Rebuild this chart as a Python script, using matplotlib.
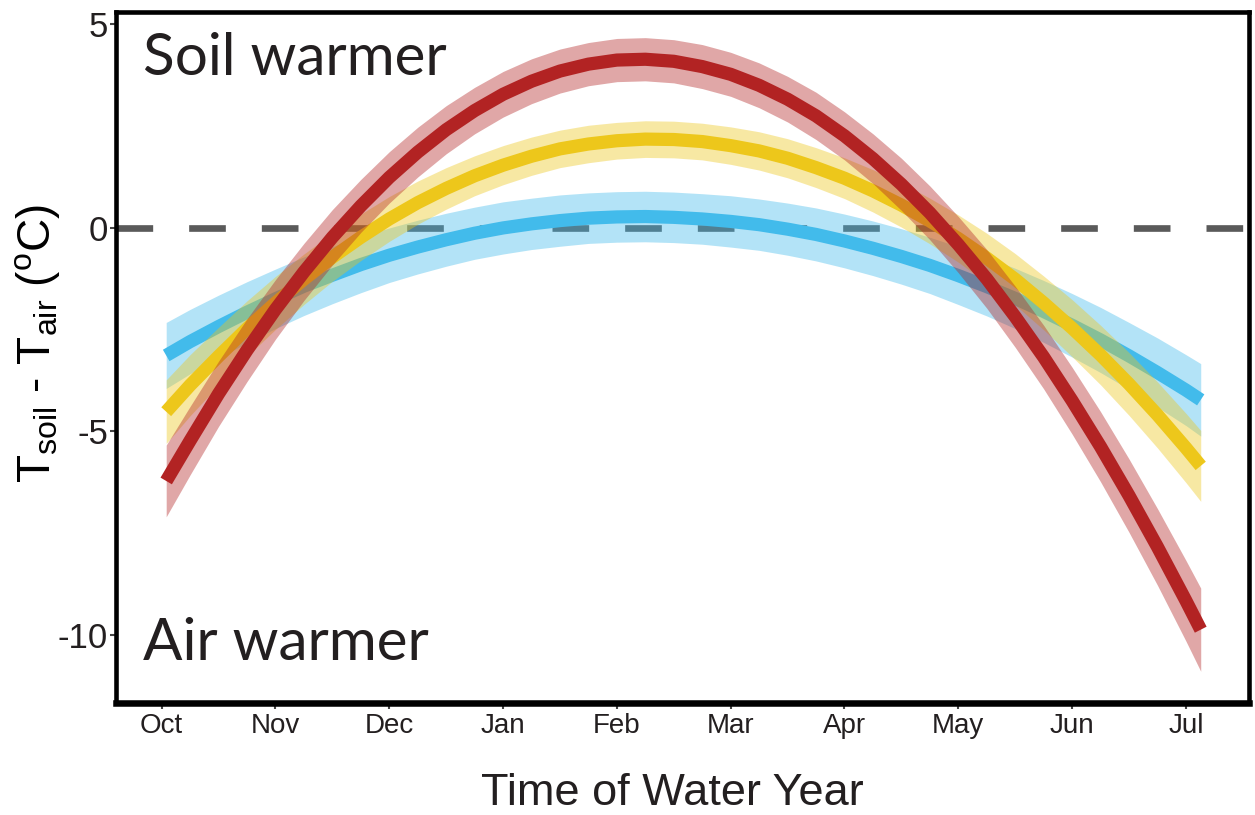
import matplotlib
matplotlib.use('Agg')
import matplotlib.pyplot as plt

plt.rcParams['mathtext.fontset'] = 'custom'
plt.rcParams['mathtext.rm'] = 'Liberation Sans'
plt.rcParams['mathtext.it'] = 'Liberation Sans'

# months since the start of the water year (Oct = 0)
months = ['Oct', 'Nov', 'Dec', 'Jan', 'Feb', 'Mar', 'Apr', 'May', 'Jun', 'Jul']
t = [0.04, 0.25, 0.5, 0.75, 1.0, 1.25, 1.5, 1.75, 2.0, 2.25,
     2.5, 2.75, 3.0, 3.25, 3.5, 3.75, 4.0, 4.25, 4.5, 4.75,
     5.0, 5.25, 5.5, 5.75, 6.0, 6.25, 6.5, 6.75, 7.0, 7.25,
     7.5, 7.75, 8.0, 8.25, 8.5, 8.75, 9.0, 9.13]

# soil minus air temperature, fitted curves (degC)
blue = [-3.14, -2.80, -2.43, -2.08, -1.75, -1.44, -1.17, -0.91, -0.68, -0.48,
        -0.30, -0.14, -0.01, 0.09, 0.17, 0.23, 0.26, 0.27, 0.25, 0.21,
        0.15, 0.07, -0.04, -0.17, -0.33, -0.51, -0.71, -0.93, -1.18, -1.45,
        -1.74, -2.06, -2.40, -2.76, -3.15, -3.56, -3.99, -4.23]
yellow = [-4.52, -3.87, -3.16, -2.48, -1.85, -1.27, -0.73, -0.24, 0.21, 0.61,
          0.96, 1.27, 1.53, 1.75, 1.93, 2.05, 2.13, 2.17, 2.16, 2.11,
          2.01, 1.88, 1.70, 1.47, 1.21, 0.90, 0.55, 0.16, -0.27, -0.75,
          -1.27, -1.85, -2.47, -3.13, -3.84, -4.60, -5.41, -5.85]
red = [-6.22, -5.23, -4.08, -3.01, -2.01, -1.09, -0.24, 0.53, 1.23, 1.85,
       2.40, 2.87, 3.27, 3.59, 3.84, 4.01, 4.11, 4.13, 4.08, 3.95,
       3.76, 3.49, 3.15, 2.74, 2.25, 1.69, 1.06, 0.36, -0.42, -1.26,
       -2.19, -3.18, -4.25, -5.38, -6.58, -7.84, -9.16, -9.87]

# half-width of the confidence ribbons
blue_ci = [0.81, 0.79, 0.77, 0.75, 0.73, 0.72, 0.70, 0.69, 0.67, 0.66,
           0.65, 0.64, 0.64, 0.63, 0.63, 0.62, 0.62, 0.62, 0.62, 0.62,
           0.63, 0.63, 0.64, 0.65, 0.66, 0.67, 0.68, 0.69, 0.71, 0.72,
           0.74, 0.76, 0.78, 0.80, 0.82, 0.85, 0.87, 0.89]
yellow_ci = [0.78, 0.75, 0.71, 0.68, 0.65, 0.62, 0.59, 0.57, 0.55, 0.53,
             0.51, 0.49, 0.48, 0.47, 0.46, 0.46, 0.45, 0.45, 0.45, 0.45,
             0.46, 0.47, 0.48, 0.49, 0.50, 0.52, 0.54, 0.56, 0.58, 0.61,
             0.63, 0.66, 0.70, 0.73, 0.77, 0.81, 0.85, 0.87]
red_ci = [0.88, 0.84, 0.80, 0.77, 0.73, 0.70, 0.68, 0.65, 0.63, 0.61,
          0.59, 0.57, 0.56, 0.55, 0.54, 0.53, 0.53, 0.53, 0.53, 0.54,
          0.54, 0.55, 0.56, 0.58, 0.59, 0.61, 0.64, 0.66, 0.69, 0.72,
          0.75, 0.78, 0.82, 0.86, 0.90, 0.94, 0.99, 1.02]

series = [
    (blue, blue_ci, '#42bbeb'),
    (yellow, yellow_ci, '#edc71b'),
    (red, red_ci, '#b22323'),
]

fig = plt.figure(figsize=(12.55, 8.15), dpi=100)
ax = fig.add_axes([0.0928, 0.1374, 0.9024, 0.8479])

# zero reference line
ax.axhline(0, color='#5a5a5a', lw=4.8, dashes=(5.5, 5.4), zorder=1)

z = 2
for vals, ci, col in series:
    lo = [v - c for v, c in zip(vals, ci)]
    hi = [v + c for v, c in zip(vals, ci)]
    ax.fill_between(t, lo, hi, color=col, alpha=0.4, lw=0, zorder=z)
    ax.plot(t, vals, color=col, lw=9.5, solid_capstyle='butt',
            solid_joinstyle='round', zorder=z + 1)
    z += 2

ax.set_xlim(-0.397, 9.554)
ax.set_ylim(-11.67, 5.29)

for name, s in ax.spines.items():
    s.set_color('black')
    s.set_linewidth(4.7 if name == 'bottom' else 3.3)
    s.set_zorder(10)

ax.set_xticks(range(len(months)))
ax.set_xticklabels(months, family='Liberation Sans', fontsize=20)
ax.set_yticks([-10, -5, 0, 5])
ax.set_yticklabels(['-10', '-5', '0', '5'], family='Liberation Sans', fontsize=25)
ax.tick_params(axis='both', direction='out', length=4, width=1.5,
               color='#444444', labelcolor='#231f20')
ax.tick_params(axis='x', pad=3)
ax.tick_params(axis='y', pad=2)

fig.text(672 / 1255, 1 - 805 / 815, 'Time of Water Year', family='Liberation Sans',
         fontsize=32.5, color='#231f20', ha='center', va='baseline')
fig.text(38 / 1255, 1 - 343 / 815, r'T$_{\rm soil}$ - T$_{\rm air}$ ($^{\rm o}$C)',
         family='Liberation Sans', fontsize=33, color='black',
         rotation=90, ha='center', va='center')

ax.text(0.023, 0.9088, 'Soil warmer', transform=ax.transAxes, family='Lato',
        fontsize=42, color='#231f20', va='baseline', ha='left')
ax.text(0.023, 0.0622, 'Air warmer', transform=ax.transAxes, family='Lato',
        fontsize=42, color='#231f20', va='baseline', ha='left')

fig.savefig('out.png', dpi=100)
